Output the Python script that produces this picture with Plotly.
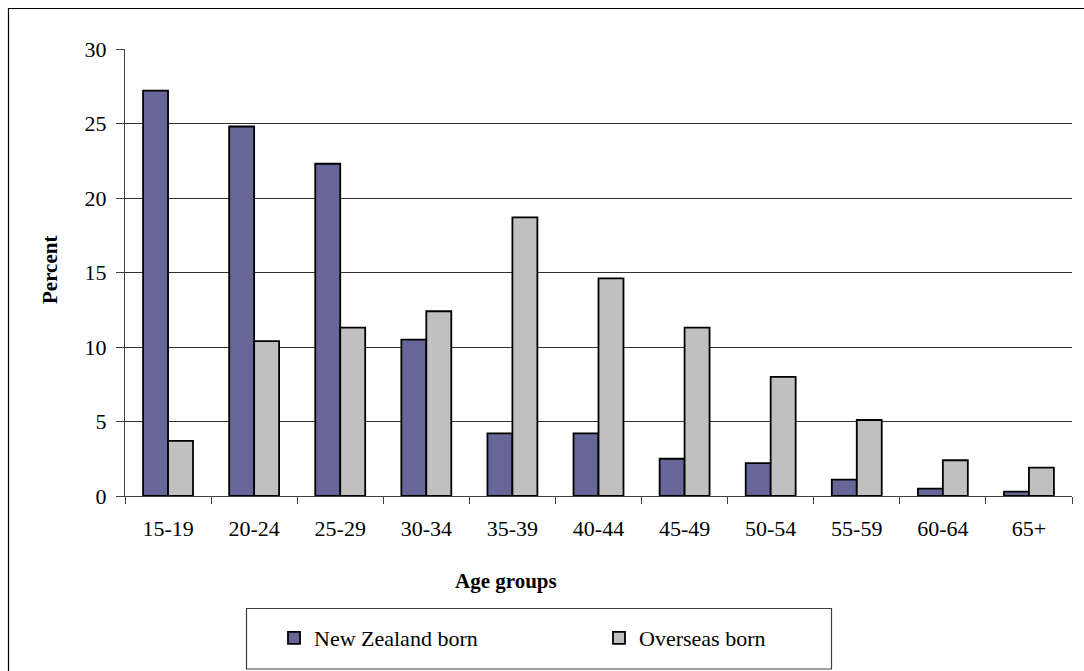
import plotly.graph_objects as go

# Age distribution by birthplace (percent of each group)
age_groups = ["15-19", "20-24", "25-29", "30-34", "35-39", "40-44",
              "45-49", "50-54", "55-59", "60-64", "65+"]
nz_born = [27.2, 24.8, 22.3, 10.5, 4.2, 4.2, 2.5, 2.2, 1.1, 0.5, 0.3]
overseas_born = [3.7, 10.4, 11.3, 12.4, 18.7, 14.6, 11.3, 8.0, 5.1, 2.4, 1.9]
y_ticks = [0, 5, 10, 15, 20, 25, 30]

W, H = 1084, 671
L, R, T, B = 125, 12, 49, 175
PW, PH = W - L - R, H - T - B


def px_x(p):
    return (p - L) / PW


def px_y(p):
    return (H - B - p) / PH


FONT = "Liberation Serif, Times New Roman, serif"

fig = go.Figure()
fig.add_trace(go.Bar(
    x=age_groups, y=nz_born, name="New Zealand born",
    marker=dict(color="#666699", line=dict(color="black", width=1.8)),
))
fig.add_trace(go.Bar(
    x=age_groups, y=overseas_born, name="Overseas born",
    marker=dict(color="#C0C0C0", line=dict(color="black", width=1.8)),
))

fig.update_layout(
    width=W, height=H,
    margin=dict(l=L, r=R, t=T, b=B),
    paper_bgcolor="white", plot_bgcolor="white",
    barmode="group", bargap=0.42, bargroupgap=0,
    font=dict(family=FONT, size=22, color="black"),
    showlegend=True,
    legend=dict(
        orientation="h", x=px_x(274), xanchor="left",
        y=px_y(638), yanchor="middle",
        entrywidth=280, entrywidthmode="pixels",
        bgcolor="rgba(0,0,0,0)", borderwidth=0,
        font=dict(family=FONT, size=22),
    ),
    xaxis=dict(
        showline=True, linecolor="#404040", linewidth=1,
        ticks="outside", ticklen=7, tickcolor="#404040",
        tickson="boundaries", ticklabelstandoff=13,
        showgrid=False, fixedrange=True,
    ),
    yaxis=dict(
        range=[0, 30], tickvals=y_ticks,
        showline=True, linecolor="#404040", linewidth=1,
        ticks="outside", ticklen=8, tickcolor="#404040",
        ticklabelstandoff=5,
        showgrid=True, gridcolor="#303030", gridwidth=1,
        zeroline=False,
    ),
    shapes=[
        # outer chart frame (right and bottom edges fall outside the page)
        dict(type="rect", xref="paper", yref="paper",
             x0=px_x(8.5), x1=px_x(1300), y0=px_y(900), y1=px_y(8.5),
             line=dict(color="black", width=1.2), fillcolor="rgba(0,0,0,0)",
             layer="below"),
        # legend box
        dict(type="rect", xref="paper", yref="paper",
             x0=px_x(246.5), x1=px_x(831.5), y0=px_y(669), y1=px_y(608.5),
             line=dict(color="#404040", width=1.2), fillcolor="rgba(0,0,0,0)"),
        # hide the gridline at the top value
        dict(type="line", xref="paper", yref="paper",
             x0=0, x1=1, y0=1, y1=1, line=dict(color="white", width=2),
             layer="below"),
    ],
    annotations=[
        dict(text="<b>Percent</b>", xref="paper", yref="paper",
             x=px_x(50), y=px_y(270), textangle=-90, showarrow=False,
             xanchor="center", yanchor="middle",
             font=dict(family=FONT, size=21)),
        dict(text="<b>Age groups</b>", xref="paper", yref="paper",
             x=px_x(506), y=px_y(581), showarrow=False,
             xanchor="center", yanchor="middle",
             font=dict(family=FONT, size=21)),
    ],
)

fig.write_html("out.html")
